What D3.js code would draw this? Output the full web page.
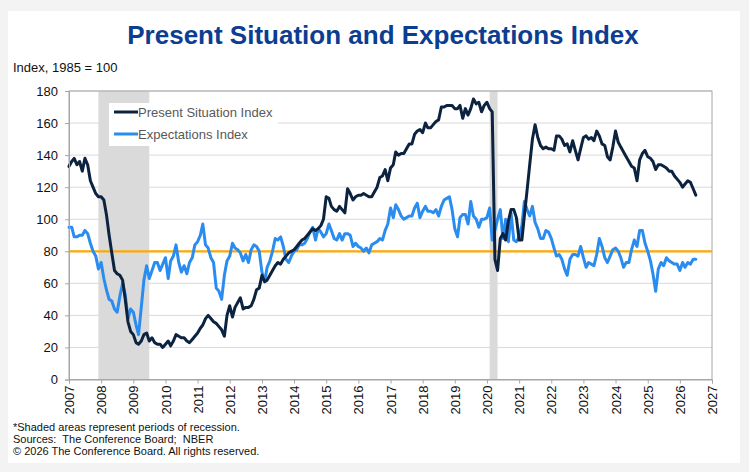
<!DOCTYPE html>
<html>
<head>
<meta charset="utf-8">
<script src="https://cdn.jsdelivr.net/npm/d3@7"></script>
<style>
  body { margin: 0; background: #f3f3f3; }
  text { font-family: "Liberation Sans", Arial, sans-serif; }
</style>
</head>
<body>
<svg id="chart" width="749" height="472"></svg>
<script>
// monthly values, Jan 2007 onwards
const firstMonth = new Date(2007, 0, 1);

const presentSituation = [
  133,136,138,134,136,130,138,134,124,120,116,114, // 2007
  114,112,103,90,79,68,66,65,62,50,36,30,          // 2008
  28,23,22,24,28,29,24,26,23,22,22,20,             // 2009
  22,24,21,24,28,27,26,26,24,23,25,27,             // 2010
  29,32,34,38,40,38,36,35,33,31,27,40,             // 2011
  46,39,45,48,51,44,45,45,46,50,56,57,             // 2012
  65,61,62,65,68,71,73,72,75,77,79,80,             // 2013
  81,83,85,87,88,90,92,94,93,94,96,100,            // 2014
  114,113,108,106,105,108,106,104,119,116,112,114, // 2015
  115,115,116,115,114,114,117,120,126,127,131,124, // 2016
  132,134,142,140,141,141,144,147,147,153,155,156, // 2017
  154,160,157,157,159,161,162,170,170,171,171,171, // 2018
  169,169,171,163,169,165,169,175,172,173,167,171, // 2019
  173,169,167,75,68,88,91,87,99,106,106,101,       // 2020
  87,87,102,118,134,150,159,151,146,144,145,144,   // 2021
  144,143,152,152,150,146,147,142,149,143,137,144, // 2022
  151,152,150,151,149,155,152,147,146,139,137,145, // 2023
  155,148,145,142,139,136,133,132,124,137,141,143, // 2024
  139,138,136,131,134,134,133,132,130,130,127,125, // 2025
  123,120,122,124,123,119,115                      // 2026
];

const expectations = [
  95,95,89,89,90,90,93,91,85,80,77,69,             // 2007
  73,63,56,50,49,44,42,52,60,53,38,44,             // 2008
  42,34,28,45,62,71,63,68,73,73,68,72,             // 2009
  76,63,74,77,84,73,67,71,66,73,76,84,             // 2010
  86,90,97,84,82,76,73,57,55,50,65,74,             // 2011
  77,85,82,81,79,74,78,73,81,84,83,80,             // 2012
  67,61,70,74,80,88,87,89,83,75,73,77,             // 2013
  80,81,84,84,85,88,92,95,87,94,92,89,             // 2014
  91,97,93,88,87,91,87,91,91,90,83,85,             // 2015
  83,82,80,82,79,84,85,86,88,87,93,97,             // 2016
  107,101,109,106,102,100,101,102,102,107,110,101, // 2017
  105,108,105,105,104,106,102,108,112,113,114,106, // 2018
  94,89,101,103,103,97,111,102,100,95,100,100,     // 2019
  101,107,87,93,100,106,88,100,86,104,87,86,       // 2020
  89,96,111,106,102,108,98,94,88,88,93,92,         // 2021
  88,82,77,78,75,69,65,75,78,78,77,83,             // 2022
  76,70,73,72,71,78,88,83,76,73,77,81,             // 2023
  82,80,76,70,73,73,81,87,83,93,93,85,             // 2024
  80,74,66,55,69,73,71,76,74,73,72,72,             // 2025
  68,73,70,73,72,75,75                             // 2026
];

const seriesNames = ["Present Situation Index", "Expectations Index"];
const seriesColors = ["#0c2340", "#2b8cf0"];
const yTicks = [0, 20, 40, 60, 80, 100, 120, 140, 160, 180];
const tickYears = d3.range(2007, 2028);
const recessionStart = ["2007-12", "2020-02"];
const recessionEnd = ["2009-07", "2020-05"];
const referenceLevel = 80;

const footnotes = [
  "*Shaded areas represent periods of recession.",
  "Sources:  The Conference Board;  NBER",
  "\u00a9 2026 The Conference Board. All rights reserved."
];

const svg = d3.select("#chart");
const parseMonth = d3.timeParse("%Y-%m");
const monthDate = i => d3.timeMonth.offset(firstMonth, i);

// card
svg.append("rect").attr("x", 8).attr("y", 11).attr("width", 732).attr("height", 452).attr("fill", "#fff");

svg.append("text").attr("x", 383).attr("y", 44).attr("text-anchor", "middle")
  .attr("font-size", 26).attr("font-weight", "bold").attr("fill", "#0b3d91")
  .text("Present Situation and Expectations Index");

svg.append("text").attr("x", 13).attr("y", 72).attr("font-size", 13).attr("fill", "#111")
  .text("Index, 1985 = 100");

const x = d3.scaleTime().domain([new Date(2007, 0, 1), new Date(2027, 0, 1)]).range([69, 712]);
const y = d3.scaleLinear().domain([0, 180]).range([379.5, 91]);

const plot = svg.append("g");

// gridlines
plot.selectAll("line.grid").data(yTicks.filter(d => d > 0)).join("line").attr("class", "grid")
  .attr("x1", x.range()[0]).attr("x2", x.range()[1])
  .attr("y1", d => y(d)).attr("y2", d => y(d))
  .attr("stroke", "#d9d9d9").attr("stroke-width", 1);

// recessions
plot.selectAll("rect.rec").data(d3.zip(recessionStart, recessionEnd)).join("rect").attr("class", "rec")
  .attr("x", d => x(parseMonth(d[0])))
  .attr("width", d => x(parseMonth(d[1])) - x(parseMonth(d[0])))
  .attr("y", y(180)).attr("height", y(0) - y(180))
  .attr("fill", "#dadada");

// frame
plot.append("rect").attr("x", x.range()[0]).attr("y", y(180))
  .attr("width", x.range()[1] - x.range()[0]).attr("height", y(0) - y(180))
  .attr("fill", "none").attr("stroke", "#a6a6a6").attr("stroke-width", 1);

// 80 line
plot.append("line").attr("x1", x.range()[0]).attr("x2", x.range()[1])
  .attr("y1", y(referenceLevel)).attr("y2", y(referenceLevel))
  .attr("stroke", "#ffa800").attr("stroke-width", 2.2);

const line = d3.line().x((d, i) => x(monthDate(i))).y(d => y(d));
[expectations, presentSituation].forEach((vals, k) => {
  plot.append("path").datum(vals).attr("d", line).attr("fill", "none")
    .attr("stroke", k === 0 ? seriesColors[1] : seriesColors[0])
    .attr("stroke-width", 3).attr("stroke-linejoin", "round").attr("stroke-linecap", "round");
});

// axes
const yAxis = svg.append("g").attr("transform", `translate(${x.range()[0]},0)`)
  .call(d3.axisLeft(y).tickValues(yTicks).tickSize(4).tickPadding(7));
yAxis.select(".domain").attr("stroke", "#a6a6a6");
yAxis.selectAll(".tick line").attr("stroke", "#a6a6a6");
yAxis.selectAll(".tick text").attr("font-size", 13).attr("fill", "#111")
  .style("font-family", "'Liberation Sans', Arial, sans-serif");

const xAxis = svg.append("g").attr("transform", `translate(0,${y(0)})`)
  .call(d3.axisBottom(x).tickValues(tickYears.map(yr => new Date(yr, 0, 1)))
    .tickFormat(d3.timeFormat("%Y")).tickSize(4));
xAxis.select(".domain").attr("stroke", "#a6a6a6");
xAxis.selectAll(".tick line").attr("stroke", "#a6a6a6");
xAxis.selectAll(".tick text").attr("font-size", 13).attr("fill", "#111")
  .style("font-family", "'Liberation Sans', Arial, sans-serif")
  .attr("text-anchor", "end").attr("transform", "rotate(-90)")
  .attr("x", -6).attr("y", 0).attr("dy", "0.35em");

// legend
const legend = svg.append("g");
legend.append("rect").attr("x", 109).attr("y", 103).attr("width", 169).attr("height", 43).attr("fill", "#fff");
seriesNames.forEach((name, i) => {
  const ly = 112 + i * 22;
  legend.append("line").attr("x1", 114).attr("x2", 138).attr("y1", ly).attr("y2", ly)
    .attr("stroke", seriesColors[i]).attr("stroke-width", 3);
  legend.append("text").attr("x", 138).attr("y", ly + 5).attr("font-size", 13).attr("fill", "#595959").text(name);
});

// footnotes
svg.selectAll("text.note").data(footnotes).join("text").attr("class", "note")
  .attr("x", 13).attr("y", (d, i) => 431 + i * 12)
  .style("white-space", "pre")
  .attr("font-size", 11).attr("fill", "#111").text(d => d);
</script>
</body>
</html>
